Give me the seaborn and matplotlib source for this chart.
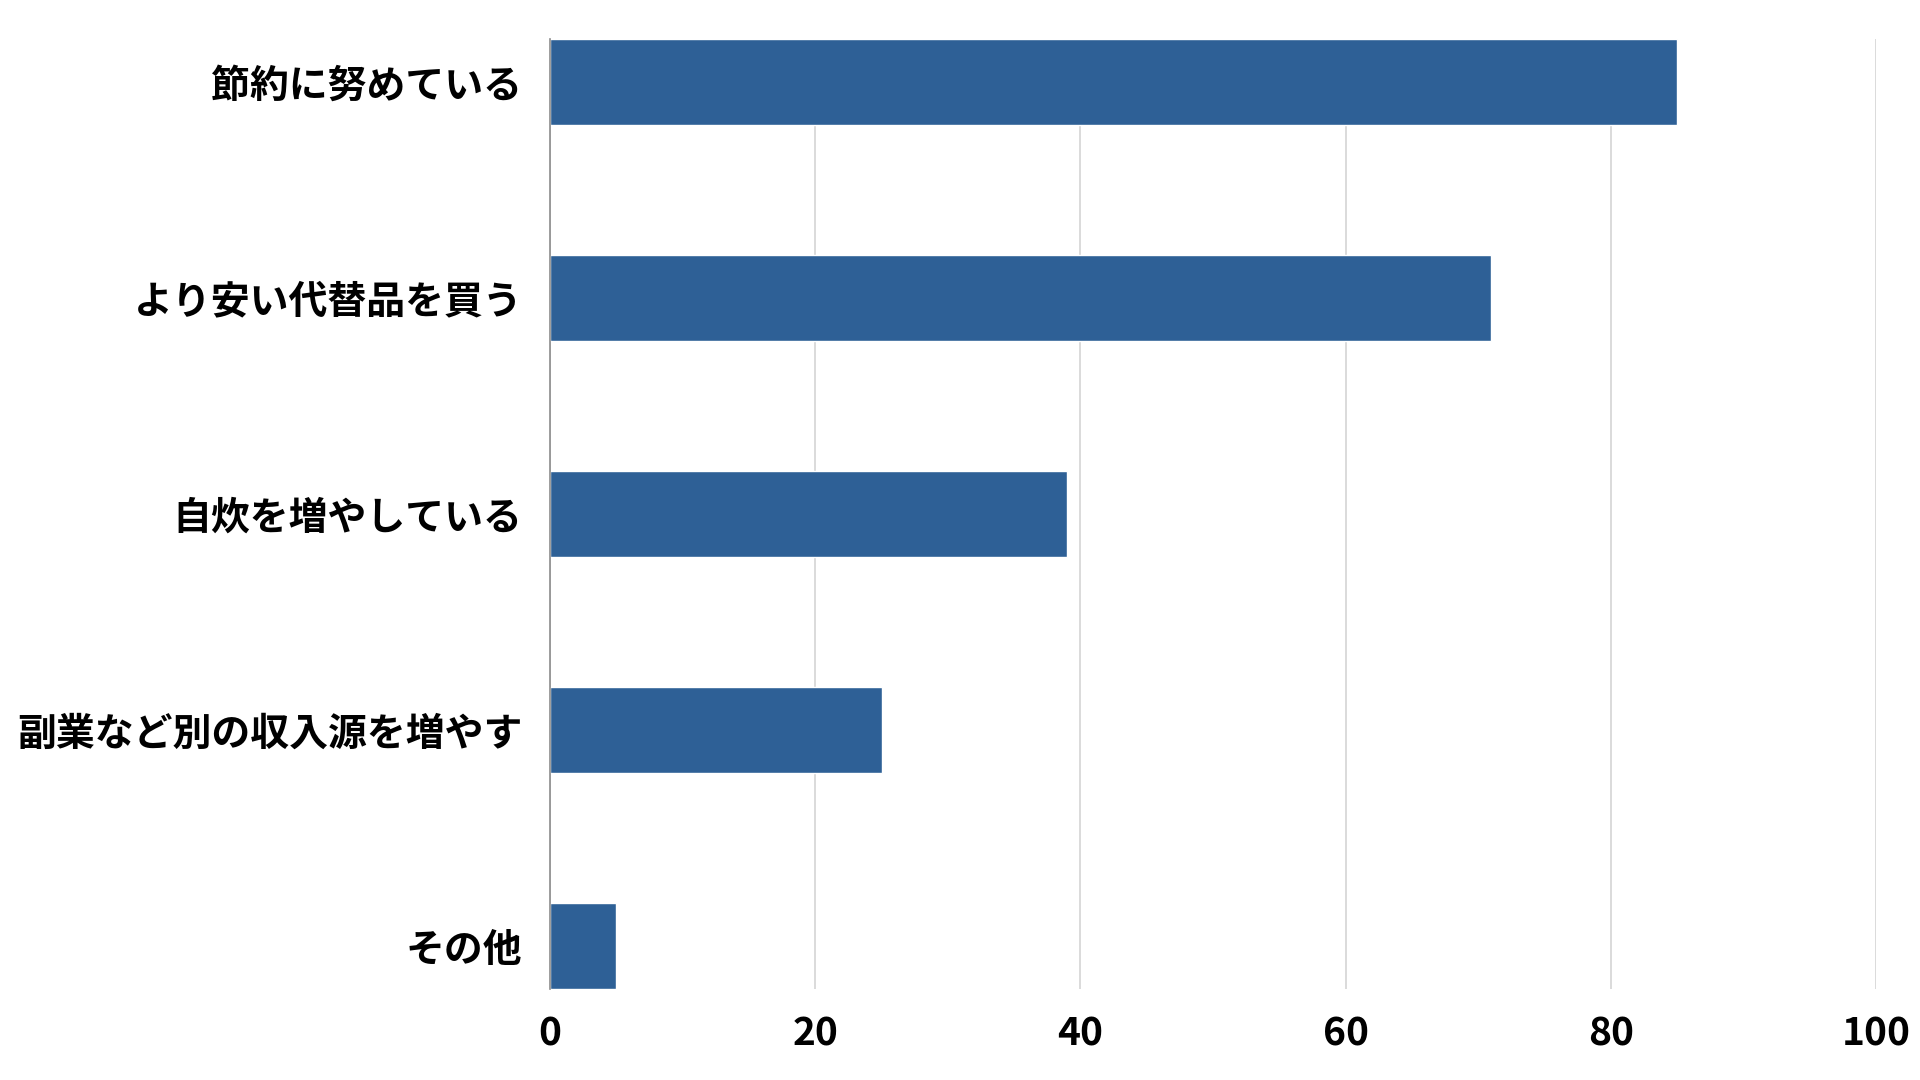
import matplotlib.pyplot as plt
import pandas as pd
import seaborn as sns

# データ
categories = ['節約に努めている', 'より安い代替品を買う', '自炊を増やしている', '副業など別の収入源を増やす', 'その他']
values = [85, 71, 39, 25, 5]
xticks = [0, 20, 40, 60, 80, 100]

df = pd.DataFrame({'項目': categories, '割合': values})

sns.set_theme(style='white')
plt.rcParams['font.family'] = ['Noto Sans CJK JP', 'DejaVu Sans']

fig = plt.figure(figsize=(19.2, 10.8), dpi=100)
ax = fig.add_axes([0.2865, 0.084, 0.6905, 0.880])

sns.barplot(data=df, x='割合', y='項目', color='#2e6096', saturation=1,
            width=0.4, ax=ax)

ax.set_xlim(0, 100)
ax.set_ylim(4.2, -0.2)
ax.set_xticks(xticks)
ax.set_xlabel('')
ax.set_ylabel('')
ax.xaxis.grid(True, color='#d4d4d4', linewidth=1.2)
ax.set_axisbelow(True)
ax.tick_params(axis='both', length=0, labelcolor='black')
ax.tick_params(axis='y', pad=20)
ax.tick_params(axis='x', pad=18)
for lab in ax.get_yticklabels():
    lab.set_fontsize(28)
    lab.set_fontweight('bold')
for lab in ax.get_xticklabels():
    lab.set_fontsize(28)
    lab.set_fontweight('bold')

for s in ['top', 'right', 'bottom']:
    ax.spines[s].set_visible(False)
ax.spines['left'].set_color('#8c8c8c')
ax.spines['left'].set_linewidth(1.2)

fig.savefig('out.png', dpi=100)
